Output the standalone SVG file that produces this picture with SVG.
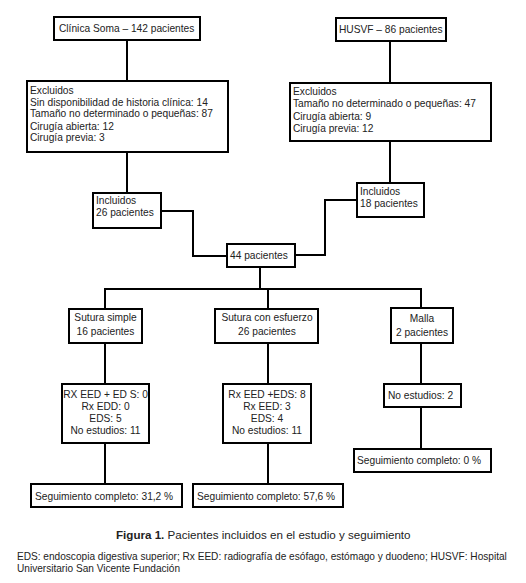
<svg xmlns="http://www.w3.org/2000/svg" width="526" height="583" viewBox="0 0 526 583">
<style>
.b{fill:#fff;stroke:#000;stroke-width:2}
.t{font-family:"Liberation Sans",Arial,sans-serif;font-size:10.2px;fill:#222}
.c{text-anchor:middle}
.l{fill:none;stroke:#000;stroke-width:2}
.cap{font-family:"Liberation Sans",Arial,sans-serif;font-size:11.6px;fill:#222}
.fn{font-family:"Liberation Sans",Arial,sans-serif;font-size:10.1px;fill:#222}
</style>
<rect width="526" height="583" fill="#fff"/>
<g id="connectors">
<line class="l" x1="127" y1="40" x2="127" y2="81"/>
<line class="l" x1="390" y1="41" x2="390" y2="83"/>
<line class="l" x1="127" y1="152" x2="127" y2="193"/>
<line class="l" x1="390" y1="141" x2="390" y2="183"/>
<polyline class="l" points="161,211 193,211 193,256 227,256"/>
<polyline class="l" points="357,200 325,200 325,255 295,255"/>
<line class="l" x1="260" y1="267" x2="260" y2="289"/>
<line class="l" x1="104" y1="289" x2="422" y2="289"/>
<line class="l" x1="105" y1="289" x2="105" y2="309"/>
<line class="l" x1="268" y1="289" x2="268" y2="309"/>
<line class="l" x1="421" y1="289" x2="421" y2="308"/>
<line class="l" x1="105" y1="343" x2="105" y2="384"/>
<line class="l" x1="268" y1="343" x2="268" y2="384"/>
<line class="l" x1="421" y1="343" x2="421" y2="384"/>
<line class="l" x1="105" y1="443" x2="105" y2="484"/>
<line class="l" x1="268" y1="443" x2="268" y2="484"/>
<line class="l" x1="421" y1="407" x2="421" y2="449"/>
</g>
<g id="soma"><rect class="b" x="54" y="17" width="146" height="23"/><text class="t" x="59" y="32">Clínica Soma – 142 pacientes</text></g>
<g id="husvf"><rect class="b" x="336" y="18" width="110" height="23"/><text class="t" x="339" y="33">HUSVF – 86 pacientes</text></g>
<g id="excl-left"><rect class="b" x="27" y="81" width="201" height="71"/>
<text class="t" x="30" y="94">Excluidos</text>
<text class="t" x="30" y="105.5">Sin disponibilidad de historia clínica: 14</text>
<text class="t" x="30" y="117">Tamaño no determinado o pequeñas: 87</text>
<text class="t" x="30" y="129.5">Cirugía abierta: 12</text>
<text class="t" x="30" y="141">Cirugía previa: 3</text></g>
<g id="excl-right"><rect class="b" x="290" y="83" width="201" height="58"/>
<text class="t" x="293" y="95">Excluidos</text>
<text class="t" x="293" y="107">Tamaño no determinado o pequeñas: 47</text>
<text class="t" x="293" y="119.5">Cirugía abierta: 9</text>
<text class="t" x="293" y="131.5">Cirugía previa: 12</text></g>
<g id="incl-left"><rect class="b" x="93" y="193" width="68" height="35"/>
<text class="t" x="96" y="204">Incluidos</text><text class="t" x="96" y="216">26 pacientes</text></g>
<g id="incl-right"><rect class="b" x="357" y="183" width="67" height="34"/>
<text class="t" x="360" y="194.5">Incluidos</text><text class="t" x="360" y="206.5">18 pacientes</text></g>
<g id="total"><rect class="b" x="227" y="244" width="68" height="23"/><text class="t" x="230" y="259">44 pacientes</text></g>
<g id="sutura-simple"><rect class="b" x="69" y="309" width="73" height="34"/>
<text class="t c" x="105.5" y="320.5">Sutura simple</text><text class="t c" x="105.5" y="334.5">16 pacientes</text></g>
<g id="sutura-esfuerzo"><rect class="b" x="215" y="309" width="103" height="34"/>
<text class="t c" x="267" y="320.5">Sutura con esfuerzo</text><text class="t c" x="267" y="334.5">26 pacientes</text></g>
<g id="malla"><rect class="b" x="391" y="308" width="62" height="35"/>
<text class="t c" x="422" y="321.5">Malla</text><text class="t c" x="422" y="335.5">2 pacientes</text></g>
<g id="estudios-simple"><rect class="b" x="62" y="384" width="87" height="59"/>
<text class="t c" x="105.5" y="397.5">RX EED + ED S: 0</text>
<text class="t c" x="105.5" y="409.5">Rx EDD: 0</text>
<text class="t c" x="105.5" y="421.5">EDS: 5</text>
<text class="t c" x="105.5" y="433.5">No estudios: 11</text></g>
<g id="estudios-esfuerzo"><rect class="b" x="223" y="384" width="88" height="59"/>
<text class="t c" x="267" y="397.5">Rx EED +EDS: 8</text>
<text class="t c" x="267" y="409.5">Rx EED: 3</text>
<text class="t c" x="267" y="421.5">EDS: 4</text>
<text class="t c" x="267" y="433.5">No estudios: 11</text></g>
<g id="estudios-malla"><rect class="b" x="384" y="384" width="77" height="23"/>
<text class="t" x="388" y="399">No estudios: 2</text></g>
<g id="seg-malla"><rect class="b" x="354" y="449" width="137" height="23"/>
<text class="t" x="357" y="464">Seguimiento completo: 0 %</text></g>
<g id="seg-simple"><rect class="b" x="31" y="484" width="151" height="23"/>
<text class="t" x="35" y="499.5">Seguimiento completo: 31,2 %</text></g>
<g id="seg-esfuerzo"><rect class="b" x="193" y="484" width="150" height="23"/>
<text class="t" x="197" y="499.5">Seguimiento completo: 57,6 %</text></g>
<text class="cap" x="116" y="539"><tspan font-weight="bold">Figura 1.</tspan> Pacientes incluidos en el estudio y seguimiento</text>
<text class="fn" x="17" y="560">EDS: endoscopia digestiva superior; Rx EED: radiografía de esófago, estómago y duodeno; HUSVF: Hospital</text>
<text class="fn" x="17" y="572">Universitario San Vicente Fundación</text>
</svg>
